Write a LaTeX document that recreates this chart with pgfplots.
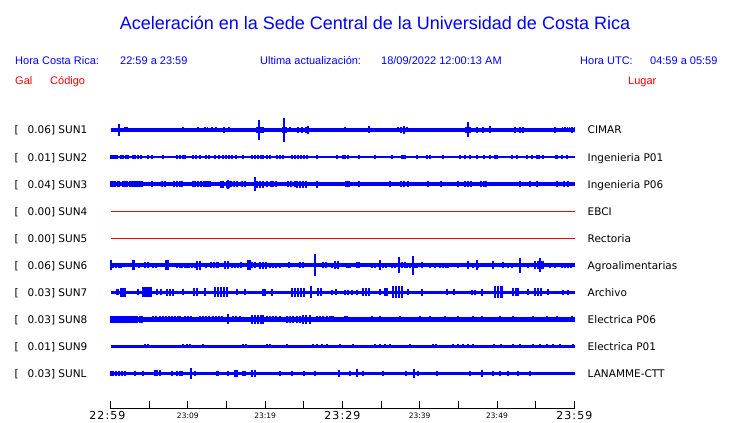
\documentclass[border=0pt]{standalone}
\usepackage{pgfplots}
\pgfplotsset{compat=1.18}
\usepackage{pgfplotstable}
\usepackage{fontspec}
\setmainfont{DejaVu Sans}
\newfontfamily\arial{Liberation Sans}
\newfontfamily\tickfont[LetterSpace=10]{DejaVu Sans}
\definecolor{bl}{RGB}{0,0,255}
\definecolor{rd}{RGB}{255,0,0}

% spike tables: t = minutes after 22:59, a = half amplitude (px)
\pgfplotstableread{
t a
1.10 6
1.88 2.5
2.13 2.5
9.38 2.5
11.32 2.5
12.22 2.5
12.60 2.5
13.13 2.5
13.65 2.5
14.68 3
15.33 2.5
18.95 3
19.21 10
19.47 3
19.73 3
22.20 3
22.44 12
22.70 3
23.22 2.5
24.26 3
24.77 3
25.29 3
25.55 4
28.10 2.3
28.40 2.3
28.70 2.3
29.00 2.3
29.30 2.3
29.60 2.3
29.90 2.3
30.20 2.3
30.34 2.5
30.60 2.3
30.98 2
31.50 2
31.90 2
33.44 3.5
37.20 2.5
37.58 3
37.97 4
38.36 2.5
39.40 2
40.04 2
46.00 3
46.25 7.5
46.50 3
47.41 3
48.19 3
49.09 3.5
50.00 2
51.00 2
51.68 2
52.33 3
52.98 3
53.37 3
54.66 2
57.50 3
58.50 2.5
58.80 2.5
59.10 2.5
59.40 2.5
59.70 3
60.00 2.5
}\sunA

\pgfplotstableread{
t a
0.06 1.6
0.32 1.6
0.58 1.6
0.84 1.6
1.36 1.6
1.62 1.6
2.00 1.6
2.26 1.6
2.91 1.6
3.17 1.6
3.56 1.6
3.95 1.6
4.85 1.6
5.37 1.6
6.79 1.6
8.60 1.6
8.99 1.6
9.38 1.6
9.64 1.6
10.67 1.6
11.06 1.6
11.58 1.6
12.35 1.6
12.74 1.6
13.52 1.6
14.04 1.6
14.55 1.6
14.94 1.6
15.33 1.6
15.72 1.6
16.24 1.6
17.14 1.6
18.30 1.6
18.69 1.6
19.08 1.6
19.47 1.6
19.73 1.6
20.25 1.6
20.63 1.6
21.54 1.6
21.93 1.6
22.31 1.6
23.48 1.6
23.87 1.6
24.26 1.6
24.64 1.6
25.03 1.6
25.42 1.6
26.71 1.6
29.30 1.6
30.08 1.6
30.34 1.6
30.73 1.6
32.15 1.6
34.22 1.6
36.42 1.6
37.71 1.6
37.97 1.6
38.10 1.6
39.65 1.6
40.95 1.6
41.33 1.6
43.01 1.6
45.21 1.6
45.86 1.6
46.51 1.6
47.41 1.6
48.32 1.6
49.09 1.6
49.74 1.6
50.00 1.6
51.94 1.6
52.59 1.6
53.88 1.6
54.53 1.6
55.18 1.6
55.44 1.6
55.96 1.6
57.64 1.6
57.77 1.6
58.41 1.6
59.06 1.6
}\sunB

\pgfplotstableread{
t a
0.06 2.8
0.32 2.8
0.58 2.8
0.97 2.8
1.10 2.8
1.62 2.8
1.88 2.8
2.13 2.8
2.52 2.8
2.78 2.8
3.04 2.8
3.30 2.8
3.56 2.8
3.82 2.8
4.08 2.8
5.37 2.8
6.66 2.8
7.05 2.8
8.21 2.8
8.60 2.8
8.99 2.8
9.25 2.8
10.67 2.8
10.93 2.8
11.32 2.8
11.71 2.8
12.10 2.8
12.35 2.8
12.61 2.8
12.87 2.8
14.30 3.5
14.55 3.5
15.07 3.5
15.20 4.5
15.33 3.5
15.59 2.8
15.98 2.8
16.36 2.8
17.01 2.8
17.40 2.8
18.69 7
18.95 3.5
19.34 3.5
19.73 3.5
20.25 2.8
20.76 2.8
21.02 2.8
21.41 2.8
22.96 2.8
23.35 2.8
23.87 2.8
24.13 3.5
24.51 3.5
24.90 3.5
25.29 3.5
26.71 3.5
30.47 2.8
30.60 2.8
30.86 2.8
32.15 2.8
36.16 2.8
37.58 2.8
37.97 2.8
38.49 2.8
41.07 2.8
42.75 2.8
44.95 2.8
45.86 3
46.25 3
46.64 3
47.93 2.8
48.32 2.8
48.58 2.8
52.98 2.8
54.27 2.8
55.18 2.8
57.77 2.8
58.67 2.8
59.19 2.8
}\sunC

\pgfplotstableread{
t a
0.06 5
0.32 2.5
0.71 2.5
1.10 2.5
1.36 2.5
2.91 5
3.10 5
3.69 2.5
4.46 3
4.85 3
5.50 2.5
5.89 2.5
7.18 5
7.44 5
8.60 2.5
8.99 2.5
9.25 2.5
9.64 2.5
9.90 2.5
10.16 2.5
10.54 2.5
10.93 2.5
11.19 4.5
11.58 4.5
12.35 2.5
13.00 3
13.39 3
13.78 3
13.91 3
14.81 4
15.20 4
15.72 2.5
16.10 2.5
16.49 2.5
16.88 3
17.79 5
18.05 5
18.30 3
18.69 3
19.34 3.5
19.73 3.5
20.12 3.5
20.63 2.5
21.02 2.5
21.41 2.5
21.93 2.5
23.09 3
24.51 3
24.90 3
26.46 11
27.49 3
27.88 3
28.65 2.5
29.04 4
29.30 2.5
29.43 4
30.60 2.5
30.86 2.5
30.98 2.5
31.89 3
32.15 3
33.83 2.5
34.22 2.5
34.86 5
35.25 2.5
35.64 2.5
36.42 2.5
36.81 2.5
37.32 8
37.71 3
38.10 3
38.36 2.5
38.75 2.5
39.13 9.5
39.39 2.5
39.65 2.5
40.30 3
41.33 2.5
41.98 2.5
42.63 2.5
43.01 2.5
43.40 2.5
43.66 2.5
44.95 2.5
46.25 4
46.90 2.5
47.41 5
47.54 2.5
49.48 4
50.78 3
51.42 2.5
51.94 2.5
52.98 7.5
54.01 2.5
54.92 4
55.31 4
55.56 7
55.70 4
55.96 4
56.86 2.5
57.51 2.5
58.41 2.5
58.80 2.5
59.19 2.5
59.57 2.5
}\sunF

\pgfplotstableread{
t a
0.84 3
0.97 3
1.36 4.5
1.62 4.5
1.88 4.5
3.56 3
4.20 5
4.46 5
4.72 5
4.98 5
5.24 5
6.02 3
6.53 3
7.31 3.5
7.70 3.5
8.09 3.5
9.38 3
10.80 4
11.19 4
12.23 4
13.52 5
13.91 5
14.30 5
14.68 5
15.07 5
16.36 3
17.40 3
19.73 3.5
19.99 3.5
20.89 3.5
23.48 4.5
23.87 4.5
24.26 4.5
24.64 4.5
25.03 4.5
25.94 6
26.84 4
27.23 4
28.65 2.5
29.17 3
30.34 2.5
30.73 2.5
31.24 2.5
31.89 2.5
32.67 4
33.05 4
33.44 4
34.86 3
35.51 4
35.77 4
36.55 6
36.94 6
37.32 6
37.71 6
38.49 3
40.30 3.5
43.53 3
44.43 3
46.77 2.5
47.15 2.5
48.06 3.5
49.74 6
50.13 6
50.52 6
50.65 6
52.07 4
52.46 4
52.72 4
54.01 3
54.92 4
55.31 4
55.70 4
56.60 3
58.54 2.5
59.19 2.5
}\sunG

\pgfplotstableread{
t a
0.06 3.5
0.32 3.5
0.58 3.5
0.84 3.5
1.10 3.5
1.36 3.5
1.62 3.5
1.88 3.5
2.13 3.5
2.39 3.5
2.65 3.5
2.91 3.5
3.17 3.5
3.43 3.5
3.82 3.5
4.08 3.5
5.50 2.8
5.89 2.8
6.40 2.8
6.79 2.8
7.18 2.8
7.57 3
7.96 3
8.34 3
8.73 3
8.99 3
9.64 3
10.03 3
10.41 3
11.58 3
11.97 3
12.35 3
12.74 3
13.26 3
13.65 3
14.04 3
14.43 3
15.20 5
15.85 3
16.24 3
16.75 3
18.30 4.5
18.69 4.5
19.08 4.5
19.47 4.5
19.73 4.5
20.25 3
20.63 3
21.02 3
21.41 3
21.93 3
22.83 3.5
23.22 3.5
23.61 3.5
24.13 3.5
24.51 3.5
24.90 4.5
25.29 4.5
25.81 4.5
26.71 3
27.10 3
27.49 3
28.01 3
28.40 3
28.65 3
28.78 3
30.34 3
30.60 3
30.98 2.7
32.28 2.7
33.83 3
34.86 3
36.16 2.7
37.45 3
38.75 2.7
40.04 3
41.33 3
42.63 2.7
43.27 3
44.95 3
45.86 2.7
46.90 3
48.06 3
49.09 2.7
50.39 3
52.07 3
52.98 2.7
54.66 3
55.56 2.7
56.47 3
57.77 3
58.80 2.7
59.70 3
}\sunH

\pgfplotstableread{
t a
4.46 2
4.85 2
9.38 2
9.90 2
10.28 2
11.97 2
17.14 2
17.53 2
20.25 2
20.63 2
22.83 2
26.20 2
26.71 2
27.36 2
28.01 2
29.69 2
31.37 2
34.22 2
34.86 2
35.51 2
36.16 2
38.75 2
41.72 2
42.11 2
44.31 2
44.95 2
45.60 2
46.25 2
46.90 2
49.61 2
50.52 2
52.07 2
52.98 2
54.66 2
55.56 2
56.47 2
57.25 2
58.15 2
59.83 2
}\sunI

\pgfplotstableread{
t a
0.06 2.5
0.32 2.5
0.71 2.5
1.10 2.5
1.49 2.5
1.88 2.5
3.17 2.5
4.20 2.5
5.76 3
6.02 3
6.40 3
7.96 2.5
8.60 2.5
8.99 2.5
9.25 2.5
10.41 5.5
10.93 2.5
13.78 2.5
13.91 2.5
15.20 2.5
16.11 3.5
16.36 3.5
17.14 2.5
17.40 2.5
18.30 3.5
18.69 3.5
21.93 2.5
23.48 2.5
25.03 2.5
26.46 2.5
29.56 3.5
30.98 2.5
31.89 4
32.67 2.5
35.25 2.5
38.23 2.5
39.26 4.5
39.78 2.5
42.24 2.5
46.51 2.5
48.06 3.5
49.48 2.5
50.39 2.5
51.42 2.5
52.72 2.5
54.27 2.5
}\sunL

% time-axis ticks: t (min), tick length (px)
\pgfplotstableread{
t a
0 8
5 8
10 8
15 8
20 8
25 8
30 8
35 8
40 8
45 8
50 8
55 8
60 8
}\ticktab

\newcommand{\trace}[4]{%
  \addplot[#4, line width=#2pt, forget plot] coordinates {(0,#1) (60.1,#1)};
  \addplot[draw=none, forget plot, error bars/.cd, y dir=both, y explicit,
    error mark=none, error bar style={draw=#4, solid, line width=1.2pt}]
    table[x=t, y expr=#1, y error=a] {#3};
}

\begin{document}
\begin{tikzpicture}
\path (0pt,0pt) rectangle (740pt,423pt);
\begin{axis}[
  scale only axis, width=740pt, height=423pt,
  xmin=-14.295, xmax=81.436, ymin=0, ymax=423,
  hide axis, clip=false]
% traces (baseline y in px from bottom)
\trace{293}{3.5}{\sunA}{bl}
\trace{265.9}{1.4}{\sunB}{bl}
\trace{238.9}{3.5}{\sunC}{bl}
\addplot[rd, line width=1.2pt, forget plot] coordinates {(0,211.5) (60.1,211.5)};
\addplot[rd, line width=1.2pt, forget plot] coordinates {(0,184.5) (60.1,184.5)};
\trace{157.8}{3.5}{\sunF}{bl}
\trace{130.7}{3.5}{\sunG}{bl}
\trace{103.7}{4.5}{\sunH}{bl}
\trace{76.9}{3}{\sunI}{bl}
\trace{49.7}{3}{\sunL}{bl}
% time axis
\addplot[black, line width=1pt, forget plot] coordinates {(0,14) (60,14)};
\addplot[draw=none, forget plot, error bars/.cd, y dir=plus, y explicit,
    error mark=none, error bar style={draw=black, solid, line width=1pt}]
    table[x=t, y expr=14, y error=a] {\ticktab};
\node[anchor=base, inner sep=0, font=\tickfont\fontsize{11}{12}\selectfont] at (axis cs:-0.4,3) {22:59};
\node[anchor=base, inner sep=0, font=\tickfont\fontsize{11}{12}\selectfont] at (axis cs:30,3) {23:29};
\node[anchor=base, inner sep=0, font=\tickfont\fontsize{11}{12}\selectfont] at (axis cs:60,3) {23:59};
\node[anchor=base, inner sep=0, font=\fontsize{7.5}{8}\selectfont] at (axis cs:10,4.7) {23:09};
\node[anchor=base, inner sep=0, font=\fontsize{7.5}{8}\selectfont] at (axis cs:20,4.7) {23:19};
\node[anchor=base, inner sep=0, font=\fontsize{7.5}{8}\selectfont] at (axis cs:40,4.7) {23:39};
\node[anchor=base, inner sep=0, font=\fontsize{7.5}{8}\selectfont] at (axis cs:50,4.7) {23:49};
\end{axis}
\begin{scope}[x=1pt, y=1pt]
% title and header
\node[anchor=base, inner sep=0, text=bl, font=\arial\fontsize{18}{20}\selectfont] at (375,393.7) {Aceleración en la Sede Central de la Universidad de Costa Rica};
\begin{scope}[every node/.style={anchor=base west, inner sep=0, font=\arial\fontsize{11}{13}\selectfont}]
\node[text=bl] at (15,358) {Hora Costa Rica:};
\node[text=bl] at (120,358) {22:59 a 23:59};
\node[text=bl] at (260,358) {Ultima actualización:};
\node[text=bl] at (381,358) {18/09/2022 12:00:13 AM};
\node[text=bl] at (580,358) {Hora UTC:};
\node[text=bl] at (650,358) {04:59 a 05:59};
\node[text=rd] at (15,338.7) {Gal};
\node[text=rd] at (50,338.7) {Código};
\node[text=rd] at (628,338.7) {Lugar};
\end{scope}
\begin{scope}[every node/.style={anchor=base west, inner sep=0, font=\fontsize{10.5}{12}\selectfont}]
\foreach \y/\v/\c/\p in {293/0.06/SUN1/CIMAR, 265.9/0.01/SUN2/Ingenieria P01, 238.9/0.04/SUN3/Ingenieria P06, 211.5/0.00/SUN4/EBCI, 184.5/0.00/SUN5/Rectoria, 157.8/0.06/SUN6/Agroalimentarias, 130.7/0.03/SUN7/Archivo, 103.7/0.03/SUN8/Electrica P06, 76.9/0.01/SUN9/Electrica P01, 49.7/0.03/SUNL/LANAMME-CTT} {
  \node at (14.5,\y-4) {[};
  \node at (27.5,\y-4) {\v] \c};
  \node at (587.5,\y-4) {\p};
}
\end{scope}
\end{scope}
\end{tikzpicture}
\end{document}
